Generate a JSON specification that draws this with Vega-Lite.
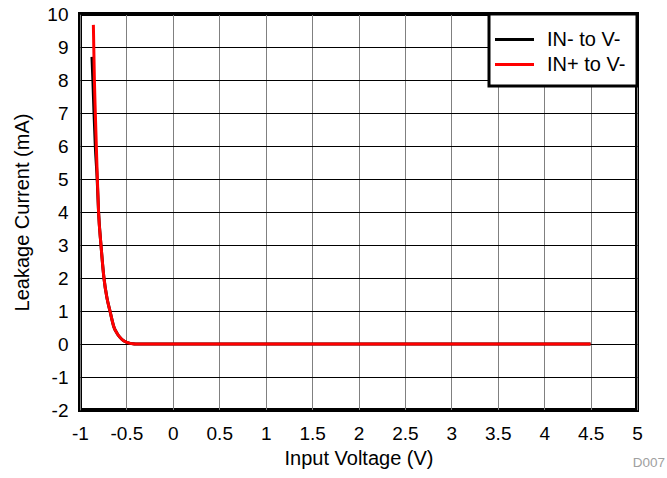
{
  "$schema": "https://vega.github.io/schema/vega-lite/v6.json",
  "autosize": "none",
  "width": 557,
  "height": 396,
  "padding": {"left": 80, "top": 14, "right": 30, "bottom": 68},
  "background": "white",
  "config": {
    "font": "Liberation Sans",
    "view": {"stroke": "black", "strokeWidth": 4},
    "axis": {"labelFont": "Liberation Sans", "titleFont": "Liberation Sans", "labelFontSize": 19, "titleFontSize": 20, "titleFontWeight": "normal", "labelColor": "black", "titleColor": "black", "ticks": false, "domain": false, "gridOpacity": 1},
    "legend": {"strokeWidth": 3}
  },
  "title": {"text": "D007", "orient": "bottom", "anchor": "end", "frame": "group", "color": "#a0a0a0", "fontSize": 13.5, "fontWeight": "normal", "font": "Liberation Sans", "offset": -12, "dx": 28},
  "data": {"values": [
    {"v": -0.871, "i": 8.7, "s": "IN- to V-"},
    {"v": -0.86, "i": 7.9, "s": "IN- to V-"},
    {"v": -0.849, "i": 7.0, "s": "IN- to V-"},
    {"v": -0.835, "i": 6.0, "s": "IN- to V-"},
    {"v": -0.815, "i": 5.0, "s": "IN- to V-"},
    {"v": -0.80, "i": 4.0, "s": "IN- to V-"},
    {"v": -0.774, "i": 3.0, "s": "IN- to V-"},
    {"v": -0.742, "i": 2.0, "s": "IN- to V-"},
    {"v": -0.71, "i": 1.4, "s": "IN- to V-"},
    {"v": -0.677, "i": 1.0, "s": "IN- to V-"},
    {"v": -0.633, "i": 0.5, "s": "IN- to V-"},
    {"v": -0.60, "i": 0.32, "s": "IN- to V-"},
    {"v": -0.569, "i": 0.2, "s": "IN- to V-"},
    {"v": -0.53, "i": 0.1, "s": "IN- to V-"},
    {"v": -0.494, "i": 0.05, "s": "IN- to V-"},
    {"v": -0.46, "i": 0.02, "s": "IN- to V-"},
    {"v": -0.43, "i": 0.005, "s": "IN- to V-"},
    {"v": -0.40, "i": 0.0, "s": "IN- to V-"},
    {"v": 4.5, "i": 0.0, "s": "IN- to V-"},
    {"v": -0.856, "i": 9.67, "s": "IN+ to V-"},
    {"v": -0.845, "i": 8.0, "s": "IN+ to V-"},
    {"v": -0.835, "i": 7.0, "s": "IN+ to V-"},
    {"v": -0.824, "i": 6.0, "s": "IN+ to V-"},
    {"v": -0.813, "i": 5.0, "s": "IN+ to V-"},
    {"v": -0.80, "i": 4.0, "s": "IN+ to V-"},
    {"v": -0.774, "i": 3.0, "s": "IN+ to V-"},
    {"v": -0.742, "i": 2.0, "s": "IN+ to V-"},
    {"v": -0.71, "i": 1.4, "s": "IN+ to V-"},
    {"v": -0.677, "i": 1.0, "s": "IN+ to V-"},
    {"v": -0.633, "i": 0.5, "s": "IN+ to V-"},
    {"v": -0.60, "i": 0.32, "s": "IN+ to V-"},
    {"v": -0.569, "i": 0.2, "s": "IN+ to V-"},
    {"v": -0.53, "i": 0.1, "s": "IN+ to V-"},
    {"v": -0.494, "i": 0.05, "s": "IN+ to V-"},
    {"v": -0.46, "i": 0.02, "s": "IN+ to V-"},
    {"v": -0.43, "i": 0.005, "s": "IN+ to V-"},
    {"v": -0.40, "i": 0.0, "s": "IN+ to V-"},
    {"v": 4.5, "i": 0.0, "s": "IN+ to V-"}
  ]},
  "mark": {"type": "line", "strokeWidth": 3, "interpolate": "monotone", "clip": true},
  "encoding": {
    "x": {"field": "v", "type": "quantitative", "title": "Input Voltage (V)",
      "scale": {"domain": [-1, 5], "nice": false},
      "axis": {"values": [-1, -0.5, 0, 0.5, 1, 1.5, 2, 2.5, 3, 3.5, 4, 4.5, 5], "labelExpr": "'' + datum.value", "gridColor": "#808080", "gridWidth": 1, "labelPadding": 14, "titlePadding": 5, "labelFlush": false}},
    "y": {"field": "i", "type": "quantitative", "title": "Leakage Current (mA)",
      "scale": {"domain": [-2, 10], "nice": false},
      "axis": {"values": [-2, -1, 0, 1, 2, 3, 4, 5, 6, 7, 8, 9, 10], "labelExpr": "'' + datum.value", "gridColor": "black", "gridWidth": 1, "labelPadding": 12, "titlePadding": 14, "labelFlush": false}},
    "color": {"field": "s", "type": "nominal", "sort": ["IN- to V-", "IN+ to V-"],
      "scale": {"domain": ["IN- to V-", "IN+ to V-"], "range": ["black", "#ff0000"]},
      "legend": {"title": null, "orient": "top-right", "offset": 0, "strokeColor": "black", "fillColor": "white", "padding": 11, "labelFontSize": 20, "labelFont": "Liberation Sans", "labelColor": "black", "symbolType": "M-1.5,0H1.5", "symbolStrokeWidth": 3, "symbolSize": 676, "rowPadding": 0, "labelOffset": 18}},
    "order": {"field": "s", "sort": "ascending"}
  }
}
